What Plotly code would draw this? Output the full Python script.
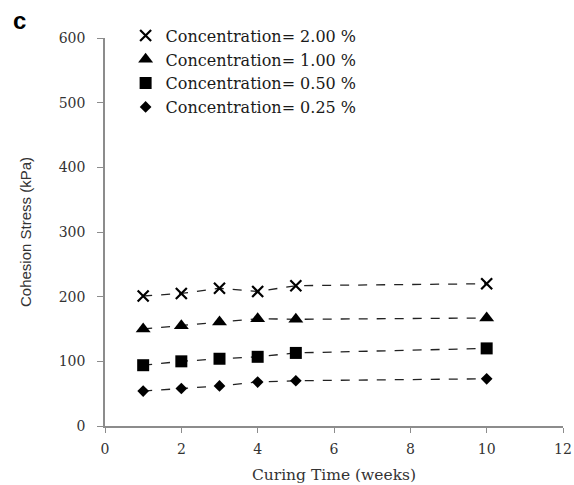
import plotly.graph_objects as go

weeks = [1, 2, 3, 4, 5, 10]
conc_labels = ["Concentration= 2.00 %", "Concentration= 1.00 %",
               "Concentration= 0.50 %", "Concentration= 0.25 %"]
stress_200 = [201, 205, 213, 208, 217, 220]
stress_100 = [150, 155, 161, 166, 165, 167]
stress_050 = [94, 100, 104, 107, 113, 120]
stress_025 = [54, 58, 62, 68, 70, 73]

series = [stress_200, stress_100, stress_050, stress_025]
symbols = ["x-thin", "triangle-up", "square", "diamond"]
sizes = [11, 13, 12, 9]

fig = go.Figure()
for vals, sym, sz, name in zip(series, symbols, sizes, conc_labels):
    mk = dict(symbol=sym, size=sz, color="black",
              line=dict(color="black", width=2.2 if sym == "x-thin" else 0))
    fig.add_trace(go.Scatter(
        x=weeks, y=vals, mode="lines+markers", showlegend=False,
        line=dict(color="#222222", width=1.3, dash="dash"), marker=mk))
    fig.add_trace(go.Scatter(
        x=[None], y=[None], mode="markers", name=name, marker=mk))

serif = "DejaVu Serif, serif"
fig.update_layout(
    width=574, height=485,
    margin=dict(l=105, r=11, t=38, b=59),
    paper_bgcolor="white", plot_bgcolor="white",
    font=dict(family=serif, size=14, color="#333333"),
    showlegend=True,
    legend=dict(x=0.045, y=1.05, xanchor="left", yanchor="top",
                font=dict(family=serif, size=16, color="#1a1a1a"),
                bgcolor="rgba(0,0,0,0)", itemwidth=30, tracegroupgap=0),
    xaxis=dict(range=[0, 12], dtick=2, showgrid=False, zeroline=False,
               automargin=False,
               showline=True, linecolor="#8c8c8c", linewidth=1.5,
               ticks="outside", ticklen=5, tickcolor="#8c8c8c",
               ticklabelstandoff=4,
               title=dict(text="Curing Time (weeks)", standoff=14,
                          font=dict(family=serif, size=15.5, color="#333333"))),
    yaxis=dict(range=[0, 600], dtick=100, showgrid=False, zeroline=False,
               automargin=False,
               showline=True, linecolor="#8c8c8c", linewidth=1.5,
               ticks="outside", ticklen=6, tickcolor="#8c8c8c",
               ticklabelstandoff=9,
               title=dict(text="Cohesion Stress (kPa)", standoff=23,
                          font=dict(family="Liberation Sans Narrow, Liberation Sans, sans-serif",
                                    size=15, color="#333333"))),
    annotations=[dict(text="<b>c</b>", x=-0.186, y=1.044,
                      xref="paper", yref="paper",
                      xanchor="center", yanchor="middle", showarrow=False,
                      font=dict(family="Liberation Sans, Arial, sans-serif",
                                size=24, color="black"))],
)

fig.write_html("out.html")
